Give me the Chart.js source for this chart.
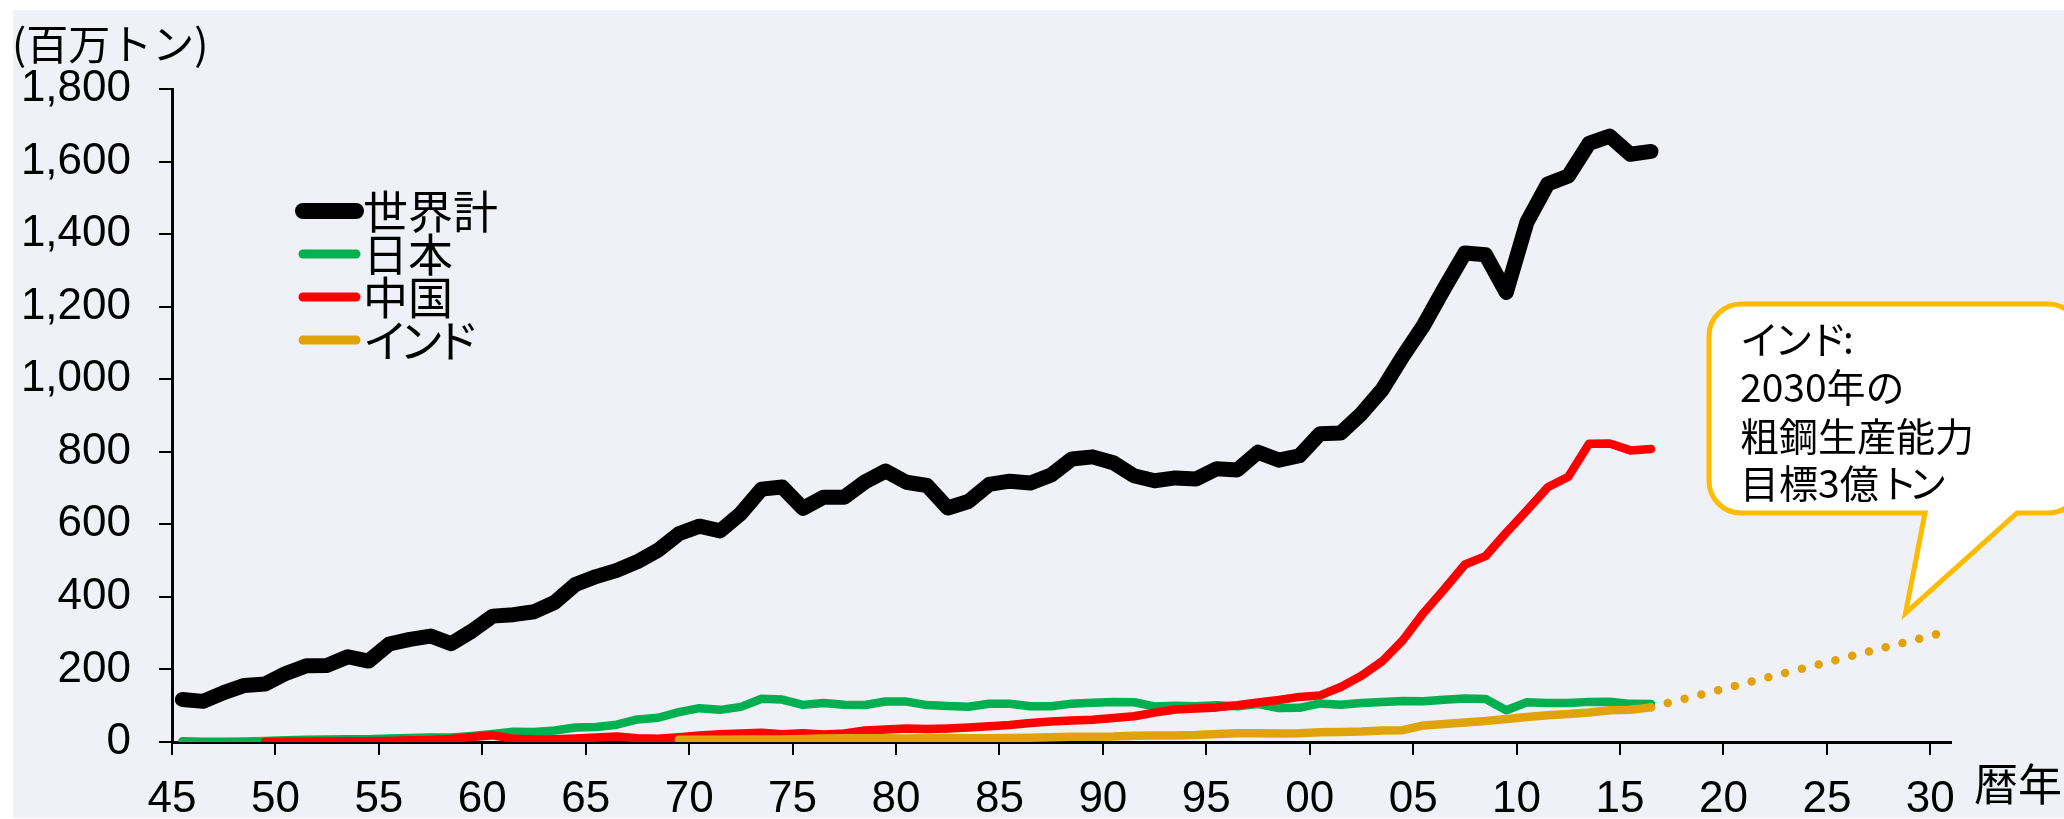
<!DOCTYPE html>
<html>
<head>
<meta charset="utf-8">
<title>粗鋼生産量の推移</title>
<script src="https://cdn.jsdelivr.net/npm/chart.js@4.4.1/dist/chart.umd.min.js"></script>
<style>
  html, body { margin: 0; padding: 0; background: #ffffff; }
  #wrap { width: 2064px; height: 819px; }
</style>
</head>
<body>
<div id="wrap"><canvas id="steel" width="2064" height="819"></canvas></div>
<script>
// Crude steel production, million tonnes, by calendar year
const worldStart = 1945;
const worldSteel = [
  117, 112, 136, 156, 160, 189, 210, 211, 235, 223,
  270, 283, 292, 271, 306, 347, 351, 359, 385, 434,
  456, 473, 497, 529, 574, 595, 582, 630, 697, 703,
  644, 675, 675, 717, 747, 716, 707, 645, 663, 710,
  719, 714, 736, 780, 786, 770, 734, 720, 728, 725,
  753, 750, 799, 777, 789, 850, 852, 905, 971, 1063,
  1148, 1250, 1348, 1343, 1239, 1433, 1538, 1560, 1650, 1670,
  1620, 1628
];

const japanStart = 1945;
const japanSteel = [
  2.0, 0.6, 1.0, 1.7, 3.1, 4.8, 6.5, 7.0, 7.7, 7.8,
  9.4, 11.1, 12.6, 12.1, 16.6, 22.1, 28.3, 27.5, 31.5, 39.8,
  41.2, 47.8, 62.2, 66.9, 82.2, 93.3, 88.6, 96.9, 119.3, 117.1,
  102.3, 107.4, 102.4, 102.1, 111.7, 111.4, 101.7, 99.5, 97.2, 105.6,
  105.3, 98.3, 98.5, 105.7, 107.9, 110.3, 109.6, 98.1, 99.6, 98.3,
  101.6, 98.8, 104.5, 93.5, 94.2, 106.4, 102.9, 107.7, 110.5, 112.7,
  112.5, 116.2, 120.2, 118.7, 87.5, 109.6, 107.6, 107.2, 110.6, 110.7,
  105.1, 104.8
];

const chinaStart = 1949;
const chinaSteel = [
  0.2, 0.6, 0.9, 1.4, 1.8, 2.2, 2.9, 4.5, 5.4, 8.0,
  13.9, 18.7, 8.7, 6.7, 7.6, 9.6, 12.2, 15.3, 10.3, 9.0,
  13.3, 17.8, 21.3, 23.4, 25.2, 21.1, 23.9, 20.5, 23.7, 31.8,
  34.5, 37.1, 35.6, 37.2, 40.0, 43.5, 46.8, 52.2, 56.3, 59.4,
  61.6, 66.4, 71.0, 80.9, 89.6, 92.6, 95.4, 101.2, 108.9, 115.6,
  124.3, 128.5, 151.6, 182.4, 222.3, 280.5, 355.8, 421.0, 489.3, 512.3,
  577.1, 638.7, 702.0, 731.0, 822.0, 822.7, 803.8, 807.6
];

const indiaStart = 1969;
const indiaSteel = [
  6.4, 6.3, 6.1, 6.9, 6.9, 7.1, 8.0, 9.4, 10.0, 10.1,
  10.1, 9.4, 10.8, 11.0, 10.2, 10.4, 11.1, 11.9, 12.8, 14.3,
  14.6, 15.0, 17.1, 18.1, 18.2, 19.3, 22.0, 23.8, 24.4, 23.5,
  24.3, 26.9, 27.3, 28.8, 31.8, 32.6, 45.8, 49.5, 53.5, 57.8,
  63.5, 69.0, 73.5, 77.3, 81.3, 87.3, 89.0, 95.5
];

// Stated capacity goal for 2030 (3億トン), joined from the latest actual year
const indiaTargetYears = [2016, 2030];
const indiaTargetValues = [95.5, 300];

const seriesNames = ['世界計', '日本', '中国', 'インド'];
const seriesColors = ['#000000', '#00b050', '#ff0000', '#e1a30b'];

const yTickValues = [0, 200, 400, 600, 800, 1000, 1200, 1400, 1600, 1800];
const xTickYears = [1945, 1950, 1955, 1960, 1965, 1970, 1975, 1980, 1985,
                    1990, 1995, 2000, 2005, 2010, 2015, 2020, 2025, 2030];

const unitLabel = '(百万トン)';
const xAxisLabel = '暦年';
const calloutLines = ['インド:', '2030年の', '粗鋼生産能力', '目標3億トン'];
const calloutKana = [0.88, 1, 1, 0.76];

const latinFont = '"Liberation Sans", Arial, sans-serif';
const cjkFont = '"Noto Sans CJK JP", "Noto Sans", sans-serif';

function toPoints(startYear, values) {
  return values.map((v, i) => ({ x: startYear + i, y: v }));
}

// Japanese text with proportionally narrowed katakana advances
function drawJP(ctx, text, x, y, kanaFactor) {
  let cx = x;
  for (const ch of text) {
    ctx.fillText(ch, cx, y);
    const w = ctx.measureText(ch).width;
    const isKana = /[\u30A0-\u30FF]/.test(ch);
    cx += isKana ? w * kanaFactor : w;
  }
}

// Each year occupies the band [year-0.5, year+0.5]; ticks mark band edges.
const xMin = xTickYears[0] - 0.5;
const xMax = xTickYears[xTickYears.length - 1] + 0.5;

const backgroundPanel = {
  id: 'backgroundPanel',
  beforeDraw(chart) {
    const { ctx, width, height } = chart;
    ctx.save();
    ctx.fillStyle = '#ffffff';
    ctx.fillRect(0, 0, width, height);
    ctx.fillStyle = '#eff1f6';
    ctx.fillRect(13, 10, width - 13, height - 11);
    ctx.restore();
  }
};

const decorations = {
  id: 'decorations',
  afterDraw(chart) {
    const { ctx } = chart;
    const xs = chart.scales.x;
    const ys = chart.scales.y;
    ctx.save();

    // unit label above the value axis
    ctx.fillStyle = '#000';
    ctx.font = '42px ' + cjkFont;
    ctx.textAlign = 'left';
    ctx.textBaseline = 'middle';
    ctx.fillText(unitLabel, 12, 44);

    // axis name to the right of the year labels
    ctx.font = '44px ' + cjkFont;
    ctx.fillText(xAxisLabel, 1974, 784);

    // inset legend
    const rows = [211, 254, 297, 340];
    seriesNames.forEach((name, i) => {
      ctx.beginPath();
      ctx.lineCap = 'round';
      ctx.strokeStyle = seriesColors[i];
      ctx.lineWidth = i === 0 ? 16 : 9;
      ctx.moveTo(303, rows[i]);
      ctx.lineTo(356, rows[i]);
      ctx.stroke();
      ctx.fillStyle = '#000';
      ctx.font = '45px ' + cjkFont;
      ctx.textBaseline = 'middle';
      drawJP(ctx, name, 363, rows[i] + 1, 0.8);
    });

    // speech-bubble callout about the 2030 goal
    const tipX = xs.getPixelForValue(2028.3);
    const tipY = ys.getPixelForValue(355);
    const left = 1709, right = 2080, top = 304, bottom = 513, r = 32;
    const baseL = 1925, baseR = 2017;
    ctx.beginPath();
    ctx.moveTo(left + r, top);
    ctx.lineTo(right - r, top);
    ctx.arcTo(right, top, right, top + r, r);
    ctx.lineTo(right, bottom - r);
    ctx.arcTo(right, bottom, right - r, bottom, r);
    ctx.lineTo(baseR, bottom);
    ctx.lineTo(tipX, tipY);
    ctx.lineTo(baseL, bottom);
    ctx.lineTo(left + r, bottom);
    ctx.arcTo(left, bottom, left, bottom - r, r);
    ctx.lineTo(left, top + r);
    ctx.arcTo(left, top, left + r, top, r);
    ctx.closePath();
    ctx.fillStyle = '#ffffff';
    ctx.fill();
    ctx.lineJoin = 'miter';
    ctx.lineWidth = 5;
    ctx.strokeStyle = '#ffbb00';
    ctx.stroke();

    ctx.fillStyle = '#000';
    ctx.font = '39px ' + cjkFont;
    ctx.textBaseline = 'middle';
    const lineYs = [339, 387, 436, 483];
    calloutLines.forEach((t, i) => drawJP(ctx, t, 1740, lineYs[i], calloutKana[i]));

    ctx.restore();
  }
};

new Chart(document.getElementById('steel'), {
  type: 'line',
  data: {
    datasets: [
      {
        label: seriesNames[3],
        data: toPoints(indiaStart, indiaSteel),
        borderColor: seriesColors[3],
        borderWidth: 8.5,
        order: 0
      },
      {
        label: seriesNames[3] + ' 2030',
        data: indiaTargetYears.map((y, i) => ({ x: y, y: indiaTargetValues[i] })),
        borderColor: seriesColors[3],
        borderWidth: 8.5,
        borderDash: [0, 17.3],
        order: 1
      },
      {
        label: seriesNames[2],
        data: toPoints(chinaStart, chinaSteel),
        borderColor: seriesColors[2],
        borderWidth: 8.5,
        order: 2
      },
      {
        label: seriesNames[1],
        data: toPoints(japanStart, japanSteel),
        borderColor: seriesColors[1],
        borderWidth: 8.5,
        order: 3
      },
      {
        label: seriesNames[0],
        data: toPoints(worldStart, worldSteel),
        borderColor: seriesColors[0],
        borderWidth: 15,
        order: 4
      }
    ]
  },
  options: {
    responsive: false,
    animation: false,
    devicePixelRatio: 1,
    layout: { padding: { top: 89, right: 113, left: 0, bottom: 0 } },
    elements: {
      point: { radius: 0, hoverRadius: 0 },
      line: {
        tension: 0,
        fill: false,
        borderCapStyle: 'round',
        borderJoinStyle: 'round'
      }
    },
    plugins: {
      legend: { display: false },
      tooltip: { enabled: false },
      title: { display: false }
    },
    scales: {
      x: {
        type: 'linear',
        min: xMin,
        max: xMax,
        afterBuildTicks(scale) {
          scale.ticks = xTickYears.map(y => ({ value: y - 0.5 }));
        },
        afterFit(scale) { scale.height = 77; },
        ticks: {
          autoSkip: false,
          maxRotation: 0,
          minRotation: 0,
          padding: 18,
          color: '#000',
          font: { family: latinFont, size: 44, lineHeight: 1.2 },
          callback(value) {
            const yr = Math.round(value + 0.5);
            return String(yr % 100).padStart(2, '0');
          }
        },
        grid: {
          display: true,
          drawOnChartArea: false,
          drawTicks: true,
          tickLength: 13,
          color: '#000',
          lineWidth: 2
        },
        border: { display: true, color: '#000', width: 3 }
      },
      y: {
        type: 'linear',
        min: yTickValues[0],
        max: yTickValues[yTickValues.length - 1],
        afterBuildTicks(scale) {
          scale.ticks = yTickValues.map(v => ({ value: v }));
        },
        afterFit(scale) { scale.width = 172; },
        ticks: {
          padding: 28,
          color: '#000',
          font: { family: latinFont, size: 44, lineHeight: 1.2 },
          callback(value) { return value.toLocaleString('en-US'); }
        },
        grid: {
          display: true,
          drawOnChartArea: false,
          drawTicks: true,
          tickLength: 13,
          color: '#000',
          lineWidth: 2
        },
        border: { display: true, color: '#000', width: 3 }
      }
    }
  },
  plugins: [backgroundPanel, decorations]
});
</script>
</body>
</html>
